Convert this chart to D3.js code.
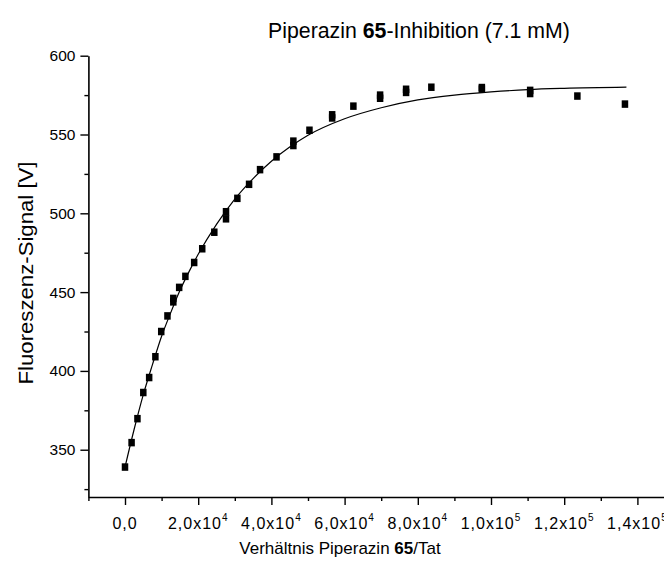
<!DOCTYPE html>
<html><head><meta charset="utf-8">
<script src="https://cdn.jsdelivr.net/npm/d3@7"></script>
<style>
html,body{margin:0;padding:0;background:#fff;}
svg{display:block;font-family:"Liberation Sans",Arial,sans-serif;}
</style></head>
<body>
<svg id="chart" width="664" height="565"></svg>
<script>
// ---- data ----
const ratio = [0, 1800, 3400, 5000, 6600, 8300, 9900, 11600, 13200, 13200, 14800, 16500, 18900, 21100, 24400, 27600, 27600, 30700, 33900, 36900, 41400, 46000, 46000, 50400, 56600, 56600, 62400, 69700, 69700, 76800, 76800, 83700, 97500, 97500, 110700, 110700, 123600, 136600];
const signal = [339, 354.5, 369.7, 386.3, 395.8, 409, 425, 434.9, 443.8, 446, 453, 460, 468.8, 477.5, 488, 496.5, 501, 509.5, 518.4, 527.7, 535.8, 543, 545.8, 552.7, 560.5, 562.5, 568, 573, 575, 576.7, 578.7, 580, 578.8, 579.8, 576, 578, 574.4, 569.3];
// fitted curve
const fitX = [0, 2500, 5000, 7500, 10000, 12500, 15000, 17500, 20000, 25000, 30000, 35000, 40000, 45000, 50000, 60000, 70000, 80000, 90000, 100000, 110000, 120000, 137000];
const fitY = [339, 363, 385, 404, 422, 437, 451, 463, 474, 493, 509, 522, 533, 542, 549.5, 560, 567, 572, 575, 577, 578.5, 579.3, 580];
const yMajor = [350, 400, 450, 500, 550, 600];
const yMinor = [325, 375, 425, 475, 525, 575];
const xMajor = [0, 20000, 40000, 60000, 80000, 100000, 120000, 140000];
const xMinor = [-10000, 10000, 30000, 50000, 70000, 90000, 110000, 130000, 150000];
const xLabels = [["0,0", ""], ["2,0x10", "4"], ["4,0x10", "4"], ["6,0x10", "4"], ["8,0x10", "4"], ["1,0x10", "5"], ["1,2x10", "5"], ["1,4x10", "5"]];

// ---- drawing ----
const svg = d3.select("#chart");
const x = d3.scaleLinear().domain([-10000, 150000]).range([88.4, 674]);
const y = d3.scaleLinear().domain([320, 600]).range([497, 55.7]);

// Y axis
const gy = svg.append("g").attr("transform", `translate(${x(-10000)},0)`);
gy.call(d3.axisLeft(y).tickValues(yMajor).tickSize(8).tickSizeOuter(0).tickPadding(5));
gy.append("g").call(d3.axisLeft(y).tickValues(yMinor).tickSize(4).tickFormat("").tickSizeOuter(0))
  .select(".domain").remove();
gy.selectAll("text").attr("font-size", 15.5).attr("font-family", "Liberation Sans, Arial, sans-serif").attr("fill", "#000");
gy.selectAll("path.domain").attr("stroke-width", 1.6);
gy.selectAll(".tick line").attr("stroke-width", 1.4);

// X axis
const gx = svg.append("g").attr("transform", `translate(0,${y(320)})`);
gx.call(d3.axisBottom(x).tickValues(xMajor).tickSize(8).tickSizeOuter(0).tickFormat(""));
gx.append("g").call(d3.axisBottom(x).tickValues(xMinor).tickSize(4).tickFormat("").tickSizeOuter(0))
  .select(".domain").remove();
gx.selectAll("path.domain").attr("stroke-width", 1.6);
gx.selectAll(".tick line").attr("stroke-width", 1.4);
const xl = gx.selectAll("text.xl").data(xMajor).join("text")
  .attr("class", "xl")
  .attr("x", d => x(d))
  .attr("y", 32)
  .attr("text-anchor", "middle")
  .attr("font-size", 16)
  .attr("letter-spacing", 1)
  .attr("fill", "#000");
xl.each(function(d, i) {
  const t = d3.select(this);
  t.append("tspan").text(xLabels[i][0]);
  if (xLabels[i][1]) t.append("tspan").attr("font-size", 10).attr("dy", -8).text(xLabels[i][1]);
});

// fit curve
const line = d3.line().x((d, i) => x(fitX[i])).y(d => y(d)).curve(d3.curveMonotoneX);
svg.append("path").datum(fitY).attr("d", line)
  .attr("fill", "none").attr("stroke", "#000").attr("stroke-width", 1.2);

// markers
const mw = 6.5, mh = 7.5;
svg.append("g").selectAll("rect").data(signal).join("rect")
  .attr("x", (d, i) => x(ratio[i]) - mw / 2)
  .attr("y", d => y(d) - mh / 2)
  .attr("width", mw).attr("height", mh)
  .attr("fill", "#000");

// title
const title = svg.append("text").attr("x", 419).attr("y", 38)
  .attr("text-anchor", "middle").attr("font-size", 21.3).attr("fill", "#000");
title.append("tspan").text("Piperazin ");
title.append("tspan").attr("font-weight", "bold").text("65");
title.append("tspan").text("-Inhibition (7.1 mM)");

// axis titles
const xt = svg.append("text").attr("x", 340).attr("y", 554)
  .attr("text-anchor", "middle").attr("font-size", 17).attr("fill", "#000");
xt.append("tspan").text("Verhältnis Piperazin ");
xt.append("tspan").attr("font-weight", "bold").text("65");
xt.append("tspan").text("/Tat");

svg.append("text").attr("transform", "translate(33,273) rotate(-90)")
  .attr("text-anchor", "middle").attr("font-size", 20)
  .attr("textLength", 223).attr("lengthAdjust", "spacingAndGlyphs")
  .attr("fill", "#000")
  .text("Fluoreszenz-Signal [V]");
</script>
</body></html>
